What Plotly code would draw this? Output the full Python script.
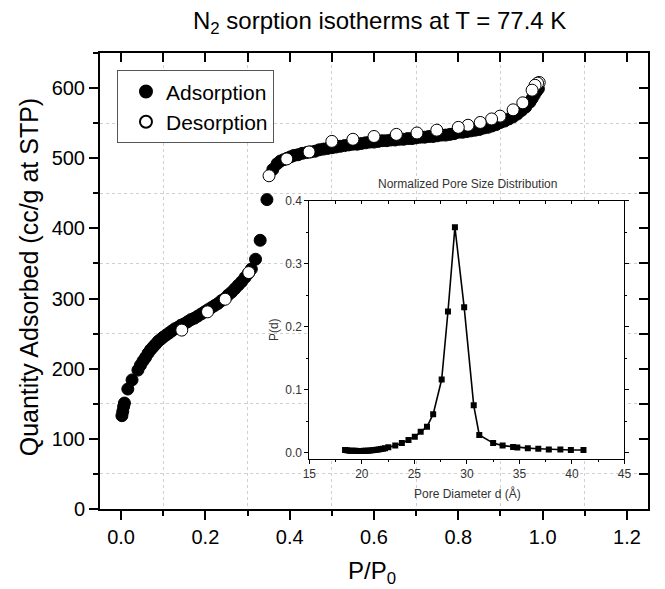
import plotly.graph_objects as go

# ---------------- data ----------------
ads_p = [0.002, 0.004, 0.006, 0.008, 0.016, 0.026, 0.040, 0.046, 0.052, 0.058,
         0.064, 0.070, 0.076, 0.082, 0.088, 0.094, 0.100, 0.107, 0.114, 0.121,
         0.128, 0.135, 0.142, 0.150, 0.158, 0.166, 0.174, 0.182, 0.190, 0.198,
         0.206, 0.214, 0.222, 0.230, 0.238, 0.246, 0.254, 0.262, 0.270, 0.278,
         0.286, 0.294, 0.302, 0.309, 0.319, 0.330, 0.346, 0.360, 0.370, 0.378,
         0.386, 0.394, 0.402, 0.410, 0.420, 0.430, 0.440, 0.450, 0.460, 0.470,
         0.480, 0.490, 0.500, 0.510, 0.520, 0.530, 0.540, 0.550, 0.560, 0.570,
         0.580, 0.590, 0.600, 0.610, 0.620, 0.630, 0.640, 0.650, 0.660, 0.670,
         0.680, 0.690, 0.700, 0.710, 0.720, 0.730, 0.740, 0.750, 0.760, 0.770,
         0.780, 0.790, 0.800, 0.810, 0.820, 0.830, 0.840, 0.850, 0.860, 0.870,
         0.880, 0.890, 0.900, 0.910, 0.920, 0.930, 0.940, 0.950, 0.960, 0.970,
         0.975, 0.980, 0.985, 0.990]
ads_q = [133, 139, 146, 151, 171, 184, 198, 205, 211, 216,
         222, 227, 231, 235, 239, 242, 245, 248, 251, 254,
         257, 259, 262, 264, 267, 270, 272, 275, 278, 281,
         284, 287, 290, 293, 297, 300, 305, 309, 314, 319,
         324, 330, 336, 342, 356, 383, 441, 484, 492, 496,
         498, 500, 502, 504, 505, 507, 508, 509, 510, 512,
         513, 514, 515, 516, 517, 518, 519, 520, 520, 521,
         522, 523, 523, 524, 525, 525, 526, 526, 527, 527,
         528, 528, 529, 530, 530, 531, 531, 532, 533, 533,
         534, 535, 537, 537, 538, 539, 540, 541, 543, 544,
         546, 548, 551, 553, 556, 559, 563, 568, 573, 580,
         585, 590, 595, 599]

des_p = [0.992, 0.988, 0.982, 0.975, 0.953, 0.930, 0.899, 0.879, 0.852, 0.823,
         0.800, 0.749, 0.702, 0.653, 0.600, 0.550, 0.500, 0.446, 0.393, 0.351,
         0.303, 0.247, 0.205, 0.144]
des_q = [608, 607, 604, 597, 579, 569, 560, 556, 551, 547,
         544, 540, 536, 534, 531, 527, 524, 509, 499, 475,
         337, 299, 281, 255]

psd_d = [18.4, 18.6, 18.8, 19.0, 19.2, 19.4, 19.6, 19.8, 20.0, 20.2,
         20.4, 20.6, 20.8, 21.0, 21.2, 21.4, 21.6, 21.8, 22.0, 22.2,
         22.52, 23.18, 23.81, 24.44, 25.04, 25.6, 26.2, 26.79, 27.6, 28.2,
         28.86, 29.74, 30.65, 31.18, 32.5, 33.4, 34.4, 34.8, 35.8, 36.8,
         37.8, 38.9, 39.9, 41.1]
psd_p = [0.004, 0.0035, 0.003, 0.003, 0.0028, 0.0027, 0.0026, 0.0026, 0.0026, 0.0027,
         0.0028, 0.003, 0.0033, 0.0037, 0.004, 0.0045, 0.005, 0.0055, 0.006, 0.007,
         0.0084, 0.011, 0.015, 0.020, 0.025, 0.033, 0.041, 0.061, 0.116, 0.224,
         0.358, 0.231, 0.075, 0.028, 0.015, 0.011, 0.009, 0.008, 0.007, 0.006,
         0.005, 0.005, 0.004, 0.004]

FONT = "Liberation Sans, Arial, sans-serif"
GRID = "#d0d0d0"
INSET_TXT = "#333333"

fig = go.Figure()

fig.add_trace(go.Scatter(
    x=ads_p, y=ads_q, mode="markers", name="Adsorption",
    marker=dict(symbol="circle", size=12, color="black",
                line=dict(color="black", width=1)),
    xaxis="x", yaxis="y"))
fig.add_trace(go.Scatter(
    x=des_p, y=des_q, mode="markers", name="Desorption",
    marker=dict(symbol="circle", size=12, color="white",
                line=dict(color="black", width=1)),
    xaxis="x", yaxis="y"))

# dummy traces so the overlay (mirror-tick) axes are drawn
fig.add_trace(go.Scatter(x=[None], y=[None], xaxis="x3", yaxis="y",
                         showlegend=False, hoverinfo="skip"))
fig.add_trace(go.Scatter(x=[None], y=[None], xaxis="x", yaxis="y3",
                         showlegend=False, hoverinfo="skip"))

# inset
fig.add_trace(go.Scatter(
    x=psd_d, y=psd_p, mode="lines+markers", showlegend=False,
    line=dict(color="black", width=1.6),
    marker=dict(symbol="square", size=6, color="black"),
    xaxis="x2", yaxis="y2"))
fig.add_trace(go.Scatter(x=[None], y=[None], xaxis="x4", yaxis="y2",
                         showlegend=False, hoverinfo="skip"))

ix0, ix1 = 0.382, 0.957
iy0, iy1 = 0.110, 0.676

fig.update_layout(
    width=665, height=589,
    margin=dict(l=100, r=10, t=53, b=80),
    paper_bgcolor="white", plot_bgcolor="white",
    font=dict(family=FONT, color="black"),
    showlegend=True,
    legend=dict(x=0.031, y=0.962, xanchor="left", yanchor="top",
                bgcolor="white", bordercolor="#555555", borderwidth=1,
                font=dict(size=21, family=FONT), tracegroupgap=0,
                itemsizing="constant", indentation=8),
    xaxis=dict(range=[-0.05, 1.25], tickmode="linear", tick0=0, dtick=0.2,
               tickformat=".1f", ticks="outside", ticklen=9, tickwidth=1.5,
               tickcolor="black", showline=True, linewidth=2, linecolor="black",
               mirror=True, showgrid=False, zeroline=False,
               tickfont=dict(size=20, family=FONT),
               minor=dict(tick0=0, dtick=0.1, ticks="outside", ticklen=5,
                          tickwidth=1.5, tickcolor="black", showgrid=True,
                          gridcolor=GRID, griddash="3px,3px", gridwidth=1)),
    yaxis=dict(range=[0, 650], tickmode="linear", tick0=0, dtick=100,
               ticks="outside", ticklen=9, tickwidth=1.5, tickcolor="black",
               showline=True, linewidth=2, linecolor="black", mirror=True,
               showgrid=False, zeroline=False,
               tickfont=dict(size=20, family=FONT),
               minor=dict(tick0=0, dtick=50, ticks="outside", ticklen=5,
                          tickwidth=1.5, tickcolor="black", showgrid=True,
                          gridcolor=GRID, griddash="3px,3px", gridwidth=1)),
    xaxis3=dict(range=[-0.05, 1.25], overlaying="x", side="top", anchor="y",
                tickmode="linear", tick0=0, dtick=0.1, ticks="inside",
                ticklen=9, tickwidth=1.5, tickcolor="black",
                showticklabels=False, showgrid=False, showline=False,
                zeroline=False),
    yaxis3=dict(range=[0, 650], overlaying="y", side="right", anchor="x",
                tickmode="linear", tick0=0, dtick=50, ticks="inside",
                ticklen=9, tickwidth=1.5, tickcolor="black",
                showticklabels=False, showgrid=False, showline=False,
                zeroline=False),
    xaxis2=dict(domain=[ix0, ix1], anchor="y2", range=[15, 45],
                tickmode="linear", tick0=15, dtick=5, ticks="outside",
                ticklen=4, tickwidth=1, tickcolor="black",
                showline=True, linewidth=1, linecolor="black", mirror=True,
                showgrid=False, zeroline=False,
                tickfont=dict(size=12, family=FONT, color=INSET_TXT),
                minor=dict(tick0=15, dtick=2.5, ticks="outside", ticklen=2,
                           tickcolor="black")),
    xaxis4=dict(domain=[ix0, ix1], range=[15, 45], overlaying="x2",
                side="top", anchor="y2", tickmode="linear", tick0=15,
                dtick=2.5, ticks="inside", ticklen=3, tickwidth=1,
                tickcolor="black", showticklabels=False, showgrid=False,
                showline=False, zeroline=False),
    yaxis2=dict(domain=[iy0, iy1], anchor="x2", range=[-0.01, 0.4],
                tickmode="linear", tick0=0, dtick=0.1, tickformat=".1f",
                ticks="outside", ticklen=4, tickwidth=1, tickcolor="black",
                showline=True, linewidth=1, linecolor="black", mirror="ticks",
                showgrid=False, zeroline=False,
                tickfont=dict(size=12, family=FONT, color=INSET_TXT),
                minor=dict(tick0=0, dtick=0.05, ticks="outside", ticklen=2,
                           tickcolor="black")),
    annotations=[
        dict(text="N<sub>2</sub> sorption isotherms at T = 77.4 K",
             xref="paper", yref="paper", x=0.51, y=1.066,
             xanchor="center", yanchor="middle", showarrow=False,
             font=dict(size=24, family=FONT)),
        dict(text="P/P<sub>0</sub>", xref="paper", yref="paper",
             x=0.497, y=-0.14, xanchor="center", yanchor="middle",
             showarrow=False, font=dict(size=24, family=FONT)),
        dict(text="Quantity Adsorbed (cc/g at STP)", xref="paper",
             yref="paper", x=-0.128, y=0.51, xanchor="center",
             yanchor="middle", textangle=-90, showarrow=False,
             font=dict(size=25, family=FONT)),
        dict(text="Normalized Pore Size Distribution", xref="paper",
             yref="paper", x=0.670, y=0.713, xanchor="center",
             yanchor="middle", showarrow=False,
             font=dict(size=12, family=FONT, color=INSET_TXT)),
        dict(text="P(d)", xref="paper", yref="paper", x=0.318, y=0.393,
             xanchor="center", yanchor="middle", textangle=-90,
             showarrow=False, font=dict(size=12, family=FONT, color=INSET_TXT)),
        dict(text="Pore Diameter d (Å)", xref="paper", yref="paper",
             x=0.670, y=0.035, xanchor="center", yanchor="middle",
             showarrow=False, font=dict(size=12, family=FONT, color=INSET_TXT)),
    ],
)

fig.write_html("out.html")
